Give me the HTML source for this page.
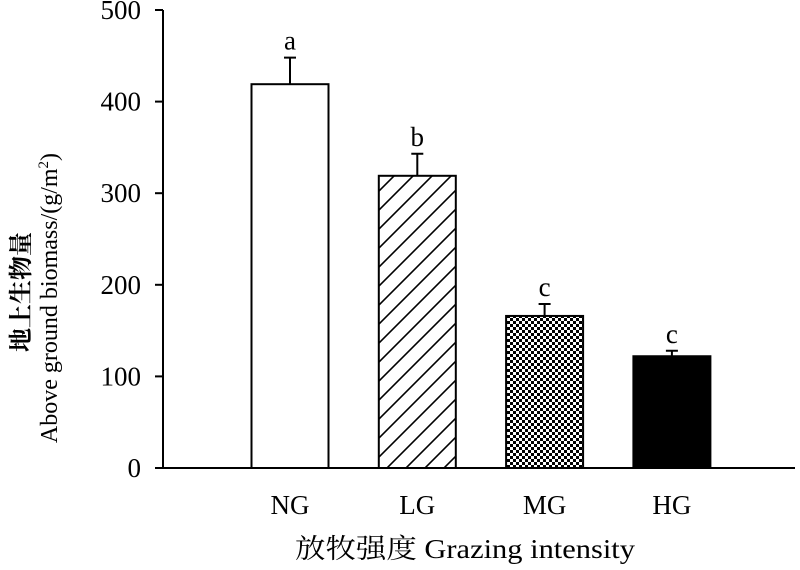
<!DOCTYPE html>
<html><head><meta charset="utf-8"><style>
body{margin:0;background:#fff}
svg text{font-family:"Liberation Serif","Noto Serif CJK SC",serif;fill:#000}
</style></head><body>
<svg id="chart" width="800" height="565" viewBox="0 0 800 565">
<defs>
<pattern id="hatch" patternUnits="userSpaceOnUse" width="19" height="19">
<path d="M-5,24 L24,-5 M-5,5 L5,-5 M14,24 L24,14" stroke="#000" stroke-width="1.6"/>
</pattern>
<pattern id="checker" patternUnits="userSpaceOnUse" width="6" height="6">
<rect width="6" height="6" fill="#fff"/><rect width="3" height="3" fill="#000"/><rect x="3" y="3" width="3" height="3" fill="#000"/>
</pattern>
</defs>
<g id="plot"></g>
<text transform="translate(29,292) rotate(-90)" text-anchor="middle" font-size="24" font-weight="bold">地上生物量</text>
<text transform="translate(57,298) rotate(-90)" text-anchor="middle" font-size="24">Above ground biomass/(g/m<tspan font-size="15" dy="-9">2</tspan><tspan dy="9">)</tspan></text>
<text x="465" y="558" text-anchor="middle" font-size="27" textLength="340" lengthAdjust="spacingAndGlyphs">放牧强度 Grazing intensity</text>
</svg>
<script>
const categories=["NG","LG","MG","HG"];
const values=[419,319,166,122];
const errors=[29,24,13,6];
const letters=["a","b","c","c"];
const yTicks=[0,100,200,300,400,500];
const fills=["#fff","url(#hatch)","url(#checker)","#000"];
const X0=163,X1=795,Y0=468,Y1=10;
const y=v=>Y0-(v/500)*(Y0-Y1);
const xc=i=>290+i*127.3;
const bw=77;
const g=document.getElementById('plot');
const NS="http://www.w3.org/2000/svg";
function mk(t,a,p){const e=document.createElementNS(NS,t);for(const k in a)e.setAttribute(k,a[k]);(p||g).appendChild(e);return e;}
categories.forEach((c,i)=>{
 const r=mk('rect',{x:xc(i)-bw/2,y:y(values[i]),width:bw,height:Y0-y(values[i]),fill:fills[i],stroke:'#000','stroke-width':2});
 
 
 const e=mk('path',{d:`M${xc(i)},${y(values[i])} V${y(values[i]+errors[i])} M${xc(i)-6},${y(values[i]+errors[i])} H${xc(i)+6}`,stroke:'#000','stroke-width':2,fill:'none'});
 
 
 const l=mk('text',{x:xc(i),y:y(values[i]+errors[i])-8,'text-anchor':'middle','font-size':27});
 l.textContent=letters[i];
 
 
 const t=mk('text',{x:xc(i),y:514,'text-anchor':'middle','font-size':27});
 t.textContent=c;
 
 
});
yTicks.forEach(v=>{
 const tk=mk('line',{x1:155,x2:X0,y1:y(v),y2:y(v),stroke:'#000','stroke-width':2});
 
 
 const t=mk('text',{x:141,y:y(v)+9,'text-anchor':'end','font-size':27});
 t.textContent=v;
 
 
});
const ya=mk('line',{x1:X0,x2:X0,y1:Y1,y2:Y0,stroke:'#000','stroke-width':2});


const xa=mk('line',{x1:X0,x2:X1,y1:Y0,y2:Y0,stroke:'#000','stroke-width':2});


</script>
</body></html>
